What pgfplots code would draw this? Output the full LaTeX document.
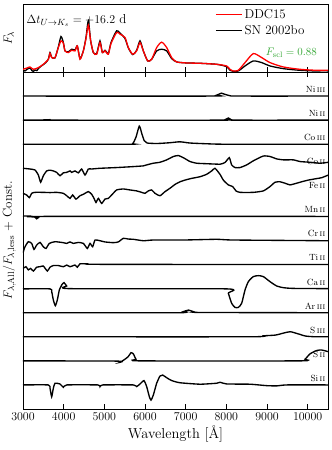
\documentclass[border=0pt]{standalone}
\usepackage{pgfplots}
\pgfplotsset{compat=1.18}
\definecolor{sclgreen}{rgb}{0.2,0.65,0.2}
\begin{document}
\begin{tikzpicture}
% ---------------- bottom panel ----------------
\begin{axis}[
  at={(0,0)}, anchor=south west,
  scale only axis, width=305bp, height=337bp,
  xmin=3000, xmax=10500, ymin=-1, ymax=13,
  ytick=\empty, scaled x ticks=false,
  xtick={3000,4000,5000,6000,7000,8000,9000,10000},
  xticklabels={3000,4000,5000,6000,7000,8000,9000,10000},
  tick align=inside, xtick pos=both, major tick length=5bp,
  axis line style={line width=0.9pt}, tick style={line width=0.7pt, black},
  xticklabel style={font=\fontsize{12}{14}\selectfont},
  xlabel={Wavelength [Å]},
  xlabel style={font=\fontsize{14.5}{16}\selectfont, yshift=2bp},
  ylabel={$F_{\lambda,\rm All}/F_{\lambda,\rm less}$ + Const.},
  ylabel style={font=\fontsize{13}{15}\selectfont, at={(axis description cs:-0.012,0.5)}, anchor=south},
  every axis plot/.append style={line width=1.35pt, black},
  clip=true,
]
% Ni III (12)
\addplot[smooth, tension=0.4] coordinates {(3000,12) (7600,12) (7750,12.03) (7880,12.12) (7950,12.08) (8100,12.01) (8300,12) (10500,12)};
% Ni II (11)
\addplot[smooth, tension=0.4] coordinates {(3000,11) (3620,11) (3664,11.02) (3710,11) (7900,11) (7990,11.04) (8050,11.09) (8110,11.03) (8200,11) (10500,11)};
% Co III (10)
\addplot[smooth, tension=0.4] coordinates {(3000,10) (5600,10) (5700,10.03) (5780,10.3) (5860,10.75) (5920,10.45) (5980,10.15) (6050,10.05) (6300,10.03) (6600,10.06) (6860,10.1) (7100,10.05) (7500,10.02) (8000,10) (10500,10)};
% Co II (9)
\addplot[smooth, tension=0.3] coordinates {(3000,9.0) (3172,8.97) (3295,8.93) (3377,8.72) (3434,8.42) (3500,8.69) (3582,8.89) (3664,8.92) (3746,8.89) (3828,8.83) (3910,8.69) (3992,8.81) (4074,8.83) (4156,8.89) (4197,8.83) (4279,8.89) (4361,8.81) (4443,8.97) (4525,8.72) (4607,8.97) (4689,8.97) (4893,9.0) (5303,9.03) (5713,9.07) (5959,9.10) (6041,9.14) (6205,9.21) (6369,9.25) (6533,9.35) (6697,9.49) (6820,9.53) (6943,9.44) (7107,9.28) (7271,9.21) (7516,9.19) (7844,9.17) (7967,9.24) (8074,9.44) (8131,9.14) (8213,9.03) (8336,9.03) (8500,9.14) (8664,9.31) (8910,9.51) (9074,9.49) (9238,9.39) (9402,9.35) (9648,9.35) (9812,9.28) (10058,9.25) (10304,9.21) (10509,9.25)};
% Fe II (8)
\addplot[smooth, tension=0.3] coordinates {(3000,7.96) (3090,7.89) (3156,7.78) (3213,7.96) (3295,8.0) (3500,8.0) (3664,7.99) (3828,8.0) (3992,7.96) (4074,7.86) (4156,7.75) (4221,7.89) (4303,7.72) (4402,7.86) (4484,7.92) (4607,8.03) (4689,7.92) (4746,7.75) (4795,7.58) (4853,7.75) (4934,7.54) (5016,7.72) (5098,7.75) (5180,7.89) (5303,8.10) (5467,8.14) (5631,8.10) (5795,8.06) (5918,8.0) (5999,7.96) (6082,8.06) (6164,8.10) (6246,7.96) (6369,7.86) (6492,8.03) (6615,8.17) (6738,8.33) (6861,8.44) (6984,8.51) (7148,8.58) (7353,8.65) (7516,8.75) (7639,8.89) (7721,9.0) (7844,8.75) (7926,8.51) (8049,8.31) (8156,8.24) (8238,8.06) (8336,8.0) (8664,8.0) (8910,8.06) (9074,8.24) (9197,8.42) (9320,8.44) (9443,8.38) (9566,8.31) (9730,8.38) (9853,8.44) (10017,8.51) (10181,8.56) (10345,8.61) (10509,8.72)};
% Mn II (7)
\addplot[smooth, tension=0.4] coordinates {(3000,7.02) (3200,7.01) (3290,6.97) (3336,6.90) (3390,6.97) (3460,7.0) (10500,7.0)};
% Cr II (6)
\addplot[smooth, tension=0.3] coordinates {(3000,5.49) (3049,5.74) (3131,5.95) (3213,5.88) (3270,5.63) (3336,5.81) (3418,5.92) (3500,5.74) (3566,5.67) (3648,5.88) (3787,5.95) (3992,5.91) (4074,5.88) (4156,5.94) (4238,5.88) (4361,5.92) (4484,5.88) (4582,5.67) (4648,5.88) (4713,5.74) (4771,6.02) (4893,5.99) (5016,5.94) (5221,5.91) (5344,5.94) (5467,6.09) (5590,6.06) (5713,6.05) (5959,5.99) (6205,6.02) (6943,6.02) (7762,6.05) (8172,6.02) (10509,5.99)};
% Ti II (5)
\addplot[smooth, tension=0.3] coordinates {(3000,4.84) (3074,4.91) (3131,4.78) (3189,4.84) (3254,4.73) (3336,4.89) (3418,4.91) (3500,4.94) (3598,4.73) (3664,4.89) (3746,4.96) (3869,4.96) (3992,4.91) (4074,4.98) (4156,4.91) (4279,4.98) (4336,4.89) (4402,5.03) (4566,5.03) (4893,5.01) (10509,5.0)};
% Ca II (4)
\addplot[smooth, tension=0.35] coordinates {(3000,3.99) (3664,3.99) (3705,3.88) (3746,3.53) (3795,3.29) (3844,3.53) (3893,3.94) (3951,4.15) (4008,4.25) (4074,4.11) (4156,4.0) (8008,3.99) (8049,3.81) (8131,3.39) (8213,3.22) (8295,3.22) (8377,3.39) (8459,3.94) (8541,4.29) (8664,4.5) (8787,4.54) (8910,4.5) (9074,4.29) (9238,4.11) (9402,4.04) (9648,4.01) (10509,4.0)};
% Ar III (3)
\addplot[smooth, tension=0.4] coordinates {(3000,3) (6800,3) (6950,3.05) (7070,3.11) (7200,3.04) (7400,3.01) (10500,3)};
% S III (2)
\addplot[smooth, tension=0.4] coordinates {(3000,2) (8500,2.0) (8900,2.04) (9200,2.07) (9400,2.15) (9570,2.21) (9750,2.13) (9950,2.03) (10200,2.0) (10500,2.0)};
% S II (1)
\addplot[smooth, tension=0.35] coordinates {(3000,1.0) (5303,0.99) (5385,0.94) (5508,1.07) (5590,1.18) (5656,1.34) (5713,1.29) (5779,1.07) (5877,1.0) (9812,1.0) (9935,1.07) (10058,1.29) (10222,1.43) (10345,1.45) (10509,1.38)};
% Si II (0)
\addplot[smooth, tension=0.3] coordinates {(3000,0) (3623,0) (3664,-0.14) (3705,-0.49) (3746,-0.14) (3787,0.07) (3910,0.04) (3992,-0.10) (4074,0) (4840,0) (4893,-0.07) (4960,0) (5713,0) (5795,-0.07) (5877,0.04) (5975,0.18) (6041,-0.07) (6107,-0.49) (6148,-0.63) (6205,-0.42) (6287,0.07) (6369,0.37) (6434,0.41) (6533,0.30) (6656,0.18) (6861,0.09) (7353,0.03) (7762,0.07) (7844,0.11) (8008,0.04) (8582,0.03) (8992,-0.03) (9238,-0.04) (9484,0) (10509,0)};
% labels
\begin{scope}[every node/.style={anchor=base east, font=\fontsize{9}{10}\selectfont, inner sep=0pt}]
\node at (axis cs:10440,12.15) {Ni\,\textsc{iii}};
\node at (axis cs:10440,11.15) {Ni\,\textsc{ii}};
\node at (axis cs:10440,10.15) {Co\,\textsc{iii}};
\node at (axis cs:10440,9.15) {Co\,\textsc{ii}};
\node at (axis cs:10440,8.15) {Fe\,\textsc{ii}};
\node at (axis cs:10440,7.15) {Mn\,\textsc{ii}};
\node at (axis cs:10440,6.15) {Cr\,\textsc{ii}};
\node at (axis cs:10440,5.15) {Ti\,\textsc{ii}};
\node at (axis cs:10440,4.15) {Ca\,\textsc{ii}};
\node at (axis cs:10440,3.15) {Ar\,\textsc{iii}};
\node at (axis cs:10440,2.15) {S\,\textsc{iii}};
\node at (axis cs:10440,1.15) {S\,\textsc{ii}};
\node at (axis cs:10440,0.15) {Si\,\textsc{ii}};
\end{scope}
\end{axis}
% ---------------- top panel ----------------
\begin{axis}[
  at={(0,337bp)}, anchor=south west,
  scale only axis, width=305bp, height=68bp,
  xmin=3000, xmax=10500, ymin=0, ymax=203,
  ytick=\empty, scaled x ticks=false,
  xtick={3000,4000,5000,6000,7000,8000,9000,10000},
  xticklabels=\empty,
  tick align=inside, xtick pos=left, major tick length=5bp,
  axis line style={line width=0.9pt}, tick style={line width=0.7pt, black},
  ylabel={$F_\lambda$},
  ylabel style={font=\fontsize{13}{15}\selectfont, at={(axis description cs:-0.018,0.5)}, anchor=south},
  legend style={draw=none, fill=none, at={(axis description cs:0.62,0.98)}, anchor=north west, font=\fontsize{13}{15}\selectfont, row sep=1bp},
  legend cell align=left,
  legend image code/.code={\draw[#1] (0bp,0bp) -- (26bp,0bp);},
]
\addplot[black, line width=1.3pt, forget plot, smooth, tension=0.4] coordinates {(3000,5) (3050,3) (3100,8) (3172,12) (3220,4) (3254,2) (3300,6) (3340,4) (3377,10) (3450,18) (3500,22) (3560,28) (3623,38) (3664,58) (3705,44) (3787,42) (3869,75) (3934,106) (3992,88) (4033,63) (4115,60) (4197,68) (4279,66) (4336,78) (4402,40) (4484,63) (4549,103) (4607,153) (4664,93) (4730,58) (4812,55) (4893,93) (4951,58) (5016,65) (5098,55) (5164,88) (5303,123) (5385,116) (5508,100) (5590,72) (5697,52) (5795,65) (5877,93) (5959,63) (6066,33) (6164,38) (6287,63) (6410,68) (6533,63) (6656,40) (6779,30) (7025,27) (7353,26) (7762,23) (8008,16) (8090,5) (8172,2) (8295,3) (8459,18) (8664,33) (8869,28) (9074,18) (9402,10) (9812,5) (10222,3) (10400,4) (10509,3)};
\addplot[red, line width=1.3pt, forget plot, smooth, tension=0.4] coordinates {(3000,8) (3100,12) (3172,15) (3254,8) (3377,13) (3500,23) (3623,38) (3664,56) (3705,43) (3787,43) (3869,73) (3934,93) (3992,86) (4033,63) (4115,58) (4197,65) (4279,63) (4336,78) (4402,38) (4484,63) (4549,100) (4607,140) (4664,93) (4730,58) (4812,53) (4893,88) (4951,58) (5016,63) (5098,53) (5164,85) (5303,118) (5385,113) (5508,103) (5590,73) (5697,53) (5795,63) (5877,88) (5959,63) (6066,33) (6164,38) (6287,73) (6410,89) (6533,73) (6656,43) (6779,30) (7025,27) (7353,26) (7762,23) (8008,18) (8090,8) (8172,3) (8295,5) (8459,28) (8664,55) (8869,43) (9074,28) (9402,15) (9812,8) (10222,5) (10509,5)};
\addlegendimage{red, line width=1.3pt}
\addlegendentry{DDC15}
\addlegendimage{black, line width=1.3pt}
\addlegendentry{SN 2002bo}
\node[anchor=north west, font=\fontsize{13}{15}\selectfont, inner sep=2bp] at (axis description cs:0.005,0.88) {$\Delta t_{U\rightarrow K_s}=+16.2$ d};
\node[anchor=east, text=sclgreen, font=\fontsize{11}{13}\selectfont, inner sep=0pt] at (axis cs:10230,57) {$F_{\rm scl}=0.88$};
\end{axis}
\pgfresetboundingbox
\path[use as bounding box] (-23bp,-41bp) rectangle (309bp,409bp);
\end{tikzpicture}
\end{document}
